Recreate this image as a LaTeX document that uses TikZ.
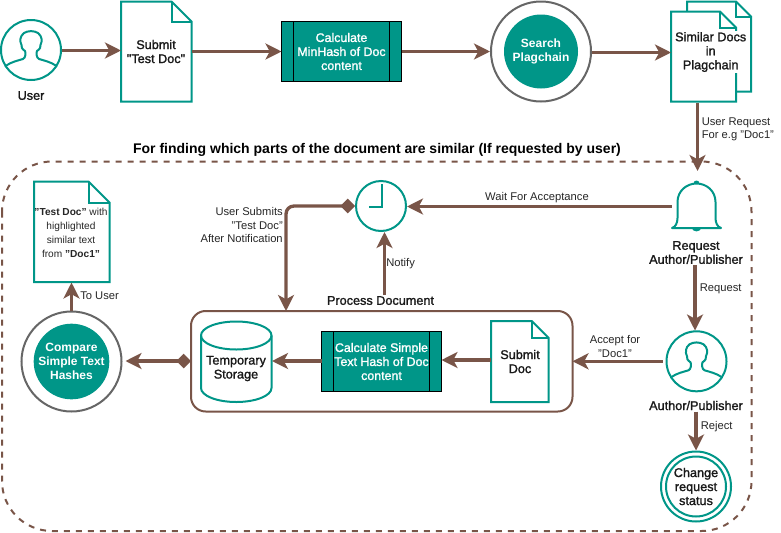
\documentclass[tikz,border=0pt]{standalone}
\usepackage{fontspec}
\setmainfont{Liberation Sans}
\newfontfamily\semifont[FakeBold=1.4]{Liberation Sans}
\usetikzlibrary{arrows.meta,shapes.geometric}
\definecolor{teal}{HTML}{009688}
\definecolor{brn}{HTML}{795548}
\definecolor{gry}{HTML}{666666}
\newcommand{\txtA}{\semifont\fontsize{9.5}{10.5pt}\selectfont}
\newcommand{\txtB}{\fontsize{8.4}{9.9pt}\selectfont}
\newcommand{\txtC}{\semifont\fontsize{9.3}{10.5pt}\selectfont}
\newcommand{\txtD}{\fontsize{9}{10.5pt}\selectfont\bfseries}
\tikzset{
 x=0.75pt,y=-0.75pt,
 flow/.style={draw=brn,line width=2.5pt,-{Stealth[length=12pt,width=12pt,inset=3.2pt]}},
 diaflow/.style={draw=brn,line width=2.5pt,{Diamond[length=11pt,width=11pt]}-{Stealth[length=12pt,width=12pt,inset=3.2pt]},rounded corners=6pt},
 outline/.style={draw=teal,line width=1.5pt,fill=white,line join=miter},
 lab/.style={inner sep=0pt,align=center,font=\txtA,text=black!90},
 small/.style={inner sep=0pt,align=center,font=\txtB,text=black!85},
 proc/.style={draw=black,line width=0.75pt,fill=teal,minimum width=90pt,minimum height=45pt,inner sep=0pt,align=center,font=\txtC,text=white},
 ring/.style={circle,draw=gry,line width=1.5pt,fill=white,minimum size=75pt,inner sep=0pt},
 core/.style={circle,fill=teal,minimum size=55.5pt,inner sep=0pt,align=center,font=\txtD,text=white},
}
\newcommand{\docshape}[6]{% name,x0,y0,x1,y1,fold
 \draw[outline] (#2,#3) -- ({#4-#6},#3) -- (#4,{#3+#6}) -- (#4,#5) -- (#2,#5) -- cycle;
 \draw[outline,fill=none] ({#4-#6},#3) -- ({#4-#6},{#3+#6}) -- (#4,{#3+#6});
 \coordinate (#1) at ({(#2+#4)/2},{(#3+#5)/2});
}
\newcommand{\person}[2]{% cx, cy
 \begin{scope}[shift={(#1,#2)}]
 \draw[outline] (0,0) circle[radius=30];
 \draw[draw=teal,line width=1.5pt,line cap=round,line join=round]
  (-25.5,16) .. controls (-20,12) and (-13,10.5) .. (-8,9)
  .. controls (-5.5,8) and (-5,3) .. (-6,1)
  .. controls (-9,-1) and (-10,-3) .. (-9.5,-5)
  .. controls (-11.5,-9) and (-11,-14) .. (-7,-17)
  .. controls (-3,-19.5) and (3,-19.5) .. (7,-17)
  .. controls (11,-14) and (11.5,-9) .. (9.5,-5)
  .. controls (10,-3) and (9,-1) .. (6,1)
  .. controls (5,3) and (5.5,8) .. (8,9)
  .. controls (13,10.5) and (20,12) .. (25.5,16);
 \end{scope}
}
\begin{document}
\begin{tikzpicture}
\useasboundingbox (0,0) rectangle (781,532);
% dashed frame
\draw[draw=brn,line width=1.5pt,dash pattern=on 4.5pt off 4.5pt,rounded corners=37.5pt]
  (2,161.5) rectangle (751.5,531);
% title
\node[inner sep=0pt,font=\fontsize{10.5}{12}\selectfont\bfseries] (title) at (377,150) {For finding which parts of the document are similar (If requested by user)};

% top row
\person{31}{50}
\coordinate (userE) at (62,50.5);
\node[lab] (userlab) at (31,95.5) {User};
\docshape{docA}{121}{1.5}{191.5}{101.5}{20}
\node[lab] (docAt) at (156,51.5) {Submit\\"Test Doc"};
\coordinate (docAW) at (121,50.5);
\coordinate (docAE) at (191.5,51.5);
\node[proc] (procA) at (341.5,51.5) {Calculate\\MinHash of Doc\\content};
\draw[line width=0.75pt] (293.5,21.5) -- (293.5,81.5) (389.5,21.5) -- (389.5,81.5);
\coordinate (procAW) at (281.5,51.5);
\coordinate (procAE) at (401.5,51.5);
\node[ring] (searchO) at (541,51.5) {};
\node[core] (search) at (541,51.5) {Search\\Plagchain};
% similar docs
\docshape{docB2}{687}{1.5}{751}{91.5}{15}
\docshape{docB}{671}{11.5}{736}{101.5}{16}
\node[lab,fill=white,minimum height=31.5pt,minimum width=54pt] (docBt) at (710.7,52) {Similar Docs\\in\\Plagchain};
\coordinate (docBW) at (671,52.5);
\coordinate (docBS) at (697.5,102.5);

\draw[flow] (userE) -- (docAW);
\draw[flow] (docAE) -- (procAW);
\draw[flow] (procAE) -- (searchO.west);
\draw[flow] (searchO.east |- docBW) -- (docBW);

% bell
\begin{scope}[shift={(696.5,0)}]
 \draw[draw=teal,line width=1.5pt,fill=white,line join=round]
  (-24.5,228) .. controls (-21,227) and (-19,223) .. (-19,218)
  -- (-19,202) .. controls (-19,191) and (-10,183.5) .. (0,183.5)
  .. controls (10,183.5) and (19,191) .. (19,202)
  -- (19,218) .. controls (19,223) and (21,227) .. (24.5,228) -- cycle;
 \fill[teal] (-3,183.5) arc[start angle=180,end angle=360,radius=3] -- cycle;
 \fill[teal] (-5,228) .. controls (-3,232.5) and (3,232.5) .. (5,228) -- cycle;
\end{scope}
\coordinate (bellN) at (697.5,171);
\coordinate (bellW) at (671.5,206.5);
\coordinate (bellS) at (695,265);
\node[lab] (belllab) at (696,252.5) {Request\\Author/Publisher};
\draw[flow] (docBS) -- (bellN);
\node[small,anchor=west,align=left] (urlab) at (701.5,129.5) {User Request\\For e.g "Doc1"};

% clock
\node[circle,outline,minimum size=37.5pt,inner sep=0pt] (clock) at (381,206) {};
\draw[draw=teal,line width=1.5pt] (382,184) -- (382,207) -- (369,207);
\draw[flow] (bellW) -- (clock.east |- bellW);
\node[small] (waitlab) at (537,198) {Wait For Acceptance};

% process box
\draw[draw=brn,line width=1.5pt,fill=white,rounded corners=11pt] (191,311) rectangle (572.5,411.5);
\coordinate (boxN) at (286,311);
\coordinate (boxW) at (191,361);
\coordinate (boxE) at (572.5,361.3);
\node[lab] (boxlab) at (380.5,300.5) {Process Document};
\coordinate (notifyS) at (384.5,295);
\draw[flow] (notifyS) -- (384.5,232);
\node[small,anchor=west] (notifylab) at (386,264) {Notify};
\draw[diaflow] (clock.west) -- (286,206) -- (boxN);
\node[small,align=right,anchor=east] (subm) at (283,225) {User Submits\\"Test Doc"\hspace{2.25pt}\\After Notification};

% cylinder
\draw[outline] (201,335.5) arc[x radius=35.25,y radius=14,start angle=180,end angle=360] -- (271.5,388) arc[x radius=35.25,y radius=14,start angle=0,end angle=180] -- cycle;
\draw[draw=teal,line width=1.5pt] (201,335.5) arc[x radius=35.25,y radius=14,start angle=180,end angle=0];
\node[lab] (cyl) at (236,368.5) {Temporary\\Storage};
\coordinate (cylE) at (272,361);

% second process
\node[proc] (procB) at (381.5,361.5) {Calculate Simple\\Text Hash of Doc\\content};
\draw[line width=0.75pt] (333.3,331.5) -- (333.3,391.5) (429.7,331.5) -- (429.7,391.5);
\coordinate (procBW) at (321.5,361);
\coordinate (procBE) at (441.5,360);
\draw[flow] (procBW) -- (cylE);

% submit doc
\docshape{docC}{491}{321}{548.7}{402}{17}
\node[lab] (docCt) at (520,361.5) {Submit\\Doc};
\coordinate (docCW) at (491,360);
\draw[flow] (docCW) -- (procBE);

% compare
\node[ring] (cmpO) at (71.5,361.5) {};
\node[core] (cmp) at (71.5,361.5) {Compare\\Simple Text\\Hashes};
\coordinate (cmpE) at (125.5,361);
\draw[diaflow] (boxW) -- (cmpE);

% result doc
\docshape{docD}{34}{181.5}{109.5}{282}{21}
\node[small,font=\fontsize{7.6}{10.5pt}\selectfont] (docDt) at (71,232.5) {\textbf{"Test Doc"} with\\highlighted\\similar text\\from \textbf{"Doc1"}};
\coordinate (docDS) at (71.5,282.5);
\draw[flow] (cmpO.north) -- (docDS);
\node[small,anchor=west] (tolab) at (80,296) {To User};

% author
\person{696.5}{361.3}
\coordinate (authW) at (662.5,361.3);
\coordinate (authN) at (695,330.5);
\coordinate (authS) at (696,411.5);
\node[lab] (authlab) at (696,405.5) {Author/Publisher};
\draw[flow] (bellS) -- (authN);
\node[small,anchor=west] (reqlab) at (699.5,289) {Request};
\draw[flow] (authW) -- (boxE);
\node[small] (acclab) at (615,346.5) {Accept for\\"Doc1"};

% change status
\node[circle,draw=teal,line width=1.5pt,fill=white,minimum size=52.5pt,inner sep=0pt] (chg) at (696,486.5) {};
\draw[draw=teal,line width=1.5pt] (chg.center) circle[radius=30];
\node[lab] (chgt) at (696,486.5) {Change\\request\\status};
\draw[flow] (authS) -- (chg.north);
\node[small,anchor=west] (rejlab) at (700.5,427) {Reject};
\end{tikzpicture}
\end{document}
